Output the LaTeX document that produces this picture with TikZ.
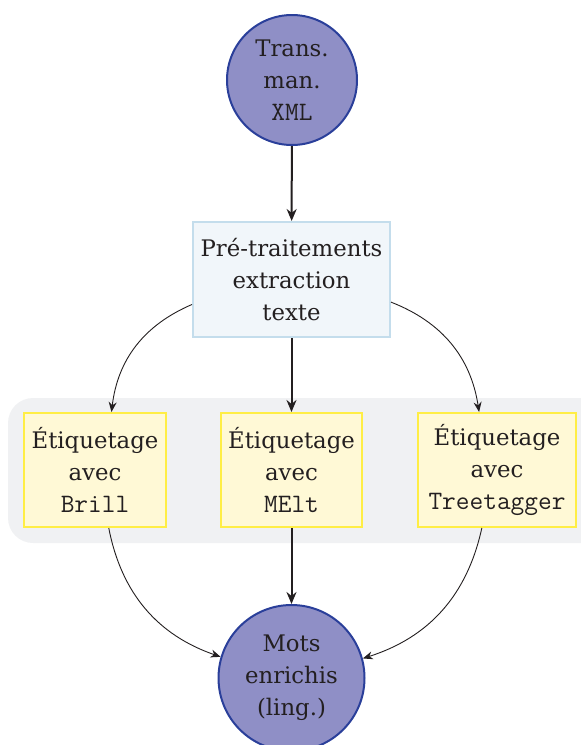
\documentclass[tikz,border=0pt]{standalone}
\usepackage{fontspec}
\setmainfont{DejaVu Serif}
\usetikzlibrary{arrows.meta}
\definecolor{circfill}{HTML}{8F8FC6}
\definecolor{circdraw}{HTML}{2A3F9A}
\definecolor{prefill}{HTML}{F1F6FA}
\definecolor{predraw}{HTML}{C4DDEC}
\definecolor{yfill}{HTML}{FFF9D6}
\definecolor{ydraw}{HTML}{FFEE45}
\definecolor{bgray}{HTML}{F0F1F3}
\definecolor{ink}{HTML}{231F20}
\newcommand{\mytt}[1]{{\fontsize{13.3}{16}\selectfont\ttfamily #1}}
\begin{document}
\begin{tikzpicture}[x=0.5pt,y=-0.5pt,
  every node/.style={font=\fontsize{11.4}{16}\selectfont, text=ink, align=center},
  circ/.style={circle, fill=circfill, draw=circdraw, line width=1pt, inner sep=0pt},
  prebox/.style={rectangle, fill=prefill, draw=predraw, line width=1pt, minimum width=98.5pt, minimum height=57.5pt, inner sep=0pt},
  ybox/.style={rectangle, fill=yfill, draw=ydraw, line width=1pt, minimum height=57pt, inner sep=0pt},
  bigarrow/.style={-{Stealth[length=6pt,width=5pt]}, line width=1pt, draw=ink},
  smallarrow/.style={-{Stealth[length=5pt,width=4pt]}, line width=0.45pt, draw=ink}]
\useasboundingbox (0,0) rectangle (581,745);
\fill[bgray, rounded corners=12.5pt] (8,398) rectangle (620,543);
\node[circ, minimum size=65pt] (xml) at (292,80) {Trans.\\man.\\\mytt{XML}};
\node[prebox] (pre) at (291.5,279.5) {Pré-traitements\\extraction\\texte};
\node[ybox, minimum width=71pt] (brill) at (95,470) {Étiquetage\\avec\\\mytt{Brill}};
\node[ybox, minimum width=70.5pt] (melt) at (291.5,470) {Étiquetage\\avec\\\mytt{MElt}};
\node[ybox, minimum width=79pt] (tree) at (497,470) {Étiquetage\\avec\\\mytt{Treetagger}};
\node[circ, minimum size=73pt] (mots) at (291.5,678) {Mots\\enrichis\\(ling.)};
\draw[bigarrow] (xml) -- (pre);
\draw[bigarrow] (pre) -- (melt);
\draw[bigarrow] (melt) -- (mots);
\draw[smallarrow] (pre) to[bend right] (brill);
\draw[smallarrow] (pre) to[bend left] (tree);
\draw[smallarrow] (brill) to[bend right] (mots);
\draw[smallarrow] (tree) to[bend left] (mots);
\end{tikzpicture}
\end{document}
